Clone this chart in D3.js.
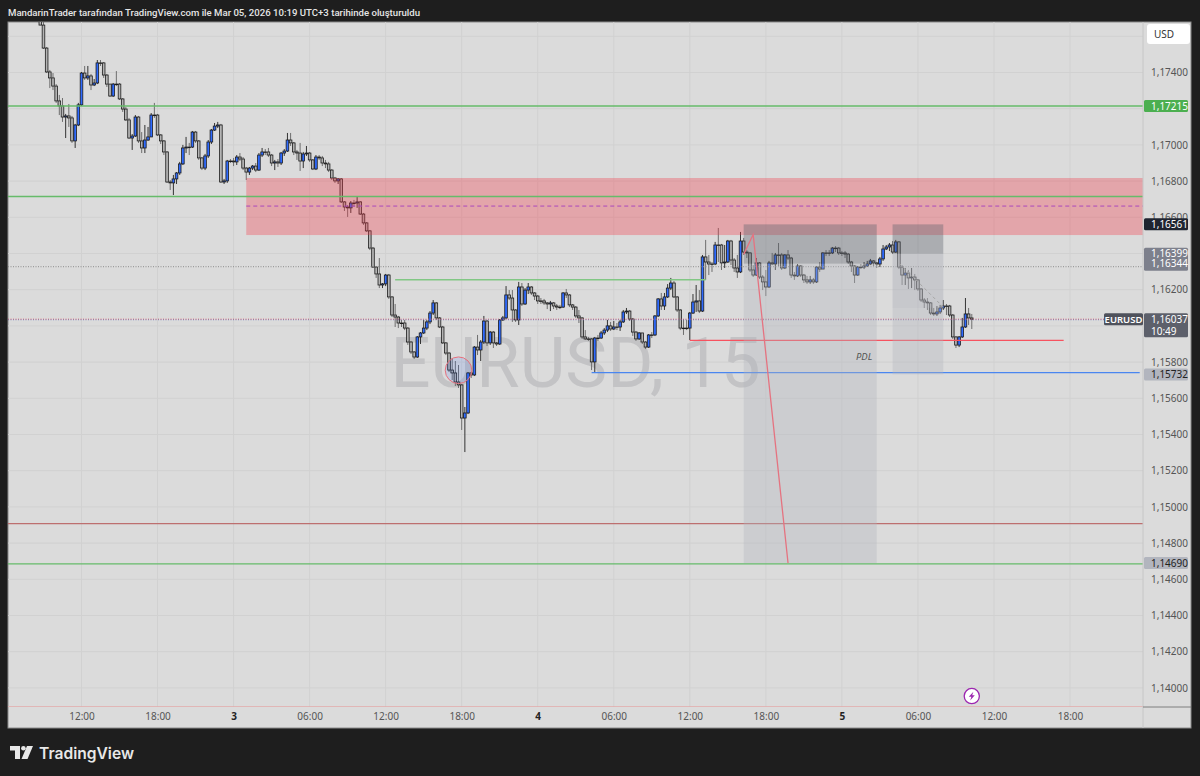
<!DOCTYPE html>
<html>
<head>
<meta charset="utf-8">
<script src="https://cdn.jsdelivr.net/npm/d3@7"></script>
<style>
  html, body { margin: 0; padding: 0; background: #1e1e1e; }
  svg { display: block; }
  text { font-family: "Noto Sans", sans-serif; }
</style>
</head>
<body>
<div id="chart"></div>
<script>
// EURUSD 15m bars. open = previous close
const firstOpen = 1.17690
const closes = [
  1.17662,1.17535,1.17403,1.17370,1.17325,1.17243,1.17215,1.17154,1.17160,1.17149,1.17022,1.17110,1.17221,1.17397,1.17370,
  1.17381,1.17331,1.17342,1.17453,1.17453,1.17386,1.17336,1.17270,1.17336,1.17336,1.17254,1.17198,1.17138,1.17038,1.17049,
  1.17154,1.17022,1.16983,1.17027,1.17044,1.17165,1.17165,1.17055,1.17022,1.16961,1.16795,1.16790,1.16812,1.16845,1.16895,
  1.16983,1.16988,1.16988,1.17071,1.17022,1.16928,1.16872,1.16939,1.17016,1.17082,1.17104,1.17110,1.16795,1.16801,1.16911,
  1.16911,1.16906,1.16933,1.16922,1.16872,1.16850,1.16872,1.16883,1.16861,1.16944,1.16961,1.16961,1.16944,1.16900,1.16906,
  1.16900,1.16955,1.16966,1.17027,1.17011,1.16961,1.16955,1.16911,1.16950,1.16955,1.16917,1.16867,1.16933,1.16928,1.16900,
  1.16895,1.16861,1.16817,1.16801,1.16812,1.16685,1.16657,1.16652,1.16679,1.16679,1.16685,1.16618,1.16569,1.16525,1.16430,
  1.16325,1.16287,1.16226,1.16232,1.16281,1.16160,1.16060,1.16049,1.16016,1.16016,1.15988,1.15911,1.15856,1.15828,1.15939,
  1.15961,1.15988,1.16022,1.16071,1.16127,1.16044,1.15994,1.15906,1.15850,1.15756,1.15740,1.15690,1.15674,1.15491,1.15519,
  1.15740,1.15729,1.15883,1.15867,1.15911,1.16027,1.15906,1.15966,1.15906,1.15900,1.16033,1.16044,1.16171,1.16154,1.16088,
  1.16033,1.16215,1.16121,1.16198,1.16215,1.16182,1.16165,1.16138,1.16138,1.16127,1.16121,1.16127,1.16110,1.16104,1.16104,
  1.16182,1.16171,1.16116,1.16104,1.16055,1.16044,1.15939,1.15928,1.15928,1.15801,1.15933,1.15933,1.15961,1.15977,1.16000,
  1.15983,1.15994,1.15994,1.16022,1.16077,1.16082,1.16038,1.15966,1.15928,1.15961,1.15911,1.15883,1.15950,1.15950,1.16055,
  1.16149,1.16110,1.16160,1.16209,1.16237,1.16160,1.16088,1.15988,1.15988,1.15988,1.16071,1.16132,1.16138,1.16082,1.16381,
  1.16353,1.16342,1.16342,1.16447,1.16447,1.16348,1.16353,1.16469,1.16364,1.16320,1.16298,1.16469,1.16408,1.16403,1.16309,
  1.16281,1.16348,1.16270,1.16243,1.16215,1.16348,1.16342,1.16392,1.16392,1.16320,1.16392,1.16375,1.16281,1.16276,1.16331,
  1.16281,1.16254,1.16243,1.16254,1.16243,1.16325,1.16314,1.16403,1.16403,1.16403,1.16430,1.16430,1.16403,1.16403,1.16397,
  1.16353,1.16331,1.16281,1.16325,1.16325,1.16331,1.16342,1.16359,1.16348,1.16342,1.16370,1.16425,1.16436,1.16447,1.16408,
  1.16464,1.16325,1.16281,1.16292,1.16265,1.16270,1.16254,1.16204,1.16143,1.16132,1.16127,1.16071,1.16066,1.16077,1.16099,
  1.16110,1.16110,1.16060,1.15939,1.15894,1.15939,1.15994,1.16066,1.16044,1.16037
]
const highs = [
  1.17745,1.17679,1.17541,1.17414,1.17397,1.17336,1.17276,1.17259,1.17171,1.17226,1.17160,1.17116,1.17232,1.17403,1.17436,
  1.17436,1.17392,1.17364,1.17469,1.17469,1.17458,1.17392,1.17336,1.17342,1.17408,1.17342,1.17259,1.17209,1.17149,1.17060,
  1.17165,1.17160,1.17071,1.17110,1.17099,1.17176,1.17232,1.17171,1.17060,1.17027,1.16966,1.16806,1.16834,1.16850,1.16906,
  1.17000,1.17044,1.17011,1.17077,1.17077,1.17027,1.16933,1.16950,1.17027,1.17088,1.17121,1.17127,1.17116,1.16812,1.16917,
  1.16922,1.16928,1.16944,1.16955,1.16933,1.16878,1.16878,1.16889,1.16900,1.16955,1.16983,1.16977,1.16983,1.16950,1.16917,
  1.16922,1.16961,1.16977,1.17066,1.17066,1.17016,1.16972,1.17011,1.16961,1.16994,1.16961,1.16922,1.16944,1.16944,1.16939,
  1.16917,1.16906,1.16867,1.16823,1.16817,1.16817,1.16690,1.16668,1.16690,1.16696,1.16712,1.16690,1.16624,1.16574,1.16530,
  1.16436,1.16331,1.16375,1.16237,1.16287,1.16287,1.16165,1.16121,1.16055,1.16033,1.16033,1.15994,1.15917,1.15861,1.15944,
  1.15966,1.16033,1.16033,1.16082,1.16143,1.16132,1.16049,1.16000,1.15911,1.15856,1.15823,1.15806,1.15784,1.15679,1.15552,
  1.15745,1.15745,1.15889,1.15950,1.15922,1.16055,1.16033,1.15972,1.15972,1.15911,1.16038,1.16055,1.16220,1.16198,1.16198,
  1.16093,1.16243,1.16237,1.16209,1.16237,1.16220,1.16187,1.16171,1.16154,1.16149,1.16132,1.16138,1.16132,1.16121,1.16116,
  1.16187,1.16204,1.16176,1.16121,1.16110,1.16088,1.16049,1.15977,1.15939,1.15933,1.15939,1.15950,1.15972,1.15988,1.16033,
  1.16022,1.16027,1.16016,1.16033,1.16088,1.16099,1.16088,1.16044,1.15972,1.15966,1.15961,1.15917,1.15955,1.15966,1.16060,
  1.16154,1.16182,1.16182,1.16231,1.16265,1.16248,1.16165,1.16093,1.16038,1.16033,1.16077,1.16176,1.16226,1.16198,1.16392,
  1.16475,1.16392,1.16353,1.16464,1.16541,1.16453,1.16447,1.16475,1.16475,1.16375,1.16392,1.16519,1.16486,1.16419,1.16408,
  1.16336,1.16375,1.16353,1.16281,1.16309,1.16359,1.16403,1.16403,1.16458,1.16403,1.16397,1.16419,1.16381,1.16298,1.16342,
  1.16336,1.16287,1.16276,1.16276,1.16265,1.16331,1.16353,1.16408,1.16419,1.16419,1.16436,1.16441,1.16436,1.16414,1.16414,
  1.16403,1.16359,1.16336,1.16331,1.16342,1.16353,1.16359,1.16370,1.16364,1.16353,1.16381,1.16447,1.16447,1.16458,1.16469,
  1.16475,1.16469,1.16336,1.16320,1.16309,1.16320,1.16287,1.16259,1.16209,1.16154,1.16154,1.16132,1.16099,1.16110,1.16116,
  1.16143,1.16121,1.16116,1.16066,1.15944,1.15944,1.16044,1.16154,1.16099,1.16066
]
const lows = [
  1.17662,1.17530,1.17397,1.17314,1.17303,1.17232,1.17165,1.17127,1.17038,1.17099,1.17011,1.16983,1.17104,1.17215,1.17359,
  1.17359,1.17303,1.17325,1.17336,1.17436,1.17370,1.17320,1.17265,1.17265,1.17325,1.17248,1.17182,1.17132,1.17033,1.16972,
  1.17044,1.17011,1.16955,1.16955,1.17022,1.17044,1.17149,1.17049,1.17005,1.16944,1.16790,1.16751,1.16723,1.16784,1.16834,
  1.16889,1.16955,1.16944,1.16983,1.17011,1.16917,1.16861,1.16861,1.16928,1.17005,1.17077,1.17093,1.16790,1.16784,1.16790,
  1.16900,1.16883,1.16889,1.16911,1.16861,1.16806,1.16834,1.16861,1.16850,1.16856,1.16933,1.16944,1.16933,1.16883,1.16861,
  1.16878,1.16889,1.16939,1.16961,1.16994,1.16944,1.16917,1.16856,1.16872,1.16939,1.16906,1.16861,1.16861,1.16917,1.16883,
  1.16872,1.16850,1.16806,1.16790,1.16784,1.16679,1.16635,1.16602,1.16624,1.16657,1.16652,1.16613,1.16558,1.16519,1.16419,
  1.16320,1.16265,1.16209,1.16209,1.16220,1.16149,1.16049,1.15994,1.15988,1.15994,1.15977,1.15895,1.15845,1.15817,1.15823,
  1.15900,1.15955,1.15977,1.16010,1.16060,1.16033,1.15988,1.15900,1.15839,1.15745,1.15701,1.15668,1.15657,1.15425,1.15303,
  1.15513,1.15712,1.15723,1.15839,1.15806,1.15900,1.15889,1.15895,1.15878,1.15889,1.15895,1.16027,1.16038,1.16143,1.16022,
  1.16022,1.16005,1.16110,1.16116,1.16176,1.16171,1.16143,1.16121,1.16121,1.16116,1.16093,1.16082,1.16093,1.16088,1.16093,
  1.16099,1.16154,1.16104,1.16088,1.16044,1.16016,1.15928,1.15922,1.15917,1.15756,1.15745,1.15917,1.15928,1.15950,1.15966,
  1.15972,1.15977,1.15977,1.15972,1.16016,1.16066,1.16027,1.15944,1.15917,1.15922,1.15900,1.15872,1.15878,1.15933,1.15944,
  1.16049,1.16088,1.16088,1.16154,1.16198,1.16154,1.16077,1.15977,1.15950,1.15977,1.15922,1.16066,1.16077,1.16071,1.16077,
  1.16254,1.16281,1.16298,1.16336,1.16353,1.16309,1.16320,1.16348,1.16336,1.16298,1.16265,1.16292,1.16392,1.16375,1.16298,
  1.16270,1.16276,1.16259,1.16198,1.16165,1.16209,1.16336,1.16309,1.16331,1.16309,1.16314,1.16364,1.16265,1.16254,1.16270,
  1.16270,1.16237,1.16232,1.16232,1.16232,1.16237,1.16298,1.16314,1.16386,1.16386,1.16397,1.16408,1.16392,1.16386,1.16375,
  1.16342,1.16298,1.16237,1.16276,1.16314,1.16314,1.16325,1.16336,1.16331,1.16320,1.16325,1.16359,1.16419,1.16414,1.16397,
  1.16403,1.16314,1.16226,1.16226,1.16204,1.16209,1.16198,1.16193,1.16132,1.16099,1.16088,1.16060,1.16055,1.16055,1.16066,
  1.16088,1.16060,1.16049,1.15928,1.15878,1.15883,1.15933,1.15989,1.16005,1.15983
]

const priceTicks = [1.176,1.174,1.172,1.170,1.168,1.166,1.164,1.162,1.160,1.158,1.156,1.154,1.152,1.150,1.148,1.146,1.144,1.142,1.140]
const hiddenTicks = [1.176,1.172,1.164,1.160]   // covered by the USD box and price tags
const timeTicks = [[2,12],[2,18],[3,0],[3,6],[3,12],[3,18],[4,0],[4,6],[4,12],[4,18],[5,0],[5,6],[5,12],[5,18]]
const timeLabels = ['12:00','18:00','3','06:00','12:00','18:00','4','06:00','12:00','18:00','5','06:00','12:00','18:00']

// horizontal levels
const fullLevels = [1.17215, 1.16715, 1.14908, 1.14685, 1.13894]
const fullLevelColors = ['#66bb6a', '#66bb6a', '#bd6f6f', '#66bb6a', '#e3aaaa']
const zoneTop = 1.16817, zoneBottom = 1.16502, zoneMid = 1.16662
const bidLevel = 1.16037
const greyDotted = 1.16327

const t = (d, h, m = 0) => new Date(Date.UTC(2026, 2, d, h, m))
const width = 1200, height = 776
const margin = { top: 22, left: 8, right: 1143, bottom: 707 }

const bars = closes.map((c, i) => ({
  time: new Date(Date.UTC(2026, 2, 2, 8, 45) + i * 900000),
  open: i ? closes[i - 1] : firstOpen,
  close: c,
  high: highs[i],
  low: lows[i]
}))

const xScale = d3.scaleUtc().domain([t(2, 12), t(5, 18)]).range([81.5, 1070])
const yScale = d3.scaleLinear().domain([1.174, 1.140]).range([72.5, 687.9])
const fmt = d => d.toFixed(5).replace('.', ',')

const svg = d3.select('#chart').append('svg').attr('width', width).attr('height', height)

// panel
svg.append('rect').attr('x', margin.left).attr('y', margin.top).attr('width', 1183).attr('height', 706)
  .attr('fill', '#dbdbdb').attr('stroke', '#8a8a8a')

svg.append('defs').append('clipPath').attr('id', 'plot-clip').append('rect')
  .attr('x', margin.left).attr('y', margin.top)
  .attr('width', margin.right - margin.left).attr('height', margin.bottom - margin.top)

const plot = svg.append('g').attr('clip-path', 'url(#plot-clip)')

// grid
plot.selectAll('.hgrid').data(priceTicks).join('line').attr('class', 'hgrid')
  .attr('x1', margin.left).attr('x2', margin.right)
  .attr('y1', d => yScale(d)).attr('y2', d => yScale(d))
  .attr('stroke', '#d1d1d1').attr('stroke-width', 1)
plot.selectAll('.vgrid').data(timeTicks).join('line').attr('class', 'vgrid')
  .attr('x1', d => xScale(t(d[0], d[1]))).attr('x2', d => xScale(t(d[0], d[1])))
  .attr('y1', margin.top).attr('y2', margin.bottom)
  .attr('stroke', '#d1d1d1').attr('stroke-width', 1)

// watermark
plot.append('text').attr('x', 575.5).attr('y', 387).attr('text-anchor', 'middle')
  .style('font-family', 'Roboto').style('font-size', '70.5px')
  .attr('fill', '#c3c3c5').text('EURUSD, 15')

// candles
const candle = plot.append('g').selectAll('g').data(bars).join('g')
candle.append('line')
  .attr('x1', d => xScale(d.time)).attr('x2', d => xScale(d.time))
  .attr('y1', d => yScale(d.high)).attr('y2', d => yScale(d.low))
  .attr('stroke', d => d.close > d.open ? '#333' : '#6e6e6e').attr('stroke-width', 1)
candle.append('rect')
  .attr('x', d => xScale(d.time) - 1.3).attr('width', 2.6)
  .attr('y', d => yScale(Math.max(d.open, d.close)))
  .attr('height', d => Math.max(0.6, Math.abs(yScale(d.open) - yScale(d.close))))
  .attr('fill', d => d.close > d.open ? '#2f6bff' : '#b4b4b4')
  .attr('stroke', '#1c1c1c').attr('stroke-width', 0.8)

// zone and levels, drawn over the candles
plot.append('rect')
  .attr('x', xScale(t(3, 1))).attr('width', margin.right - xScale(t(3, 1)))
  .attr('y', yScale(zoneTop)).attr('height', yScale(zoneBottom) - yScale(zoneTop))
  .attr('fill', '#f23645').attr('fill-opacity', 0.33)
plot.selectAll('.full').data(fullLevels).join('line').attr('class', 'full')
  .attr('x1', margin.left).attr('x2', margin.right)
  .attr('y1', d => yScale(d)).attr('y2', d => yScale(d))
  .attr('stroke', (d, i) => fullLevelColors[i]).attr('stroke-width', (d, i) => i == 4 ? 1.6 : 1.3)
plot.append('line')
  .attr('x1', xScale(t(3, 1))).attr('x2', margin.right)
  .attr('y1', yScale(zoneMid)).attr('y2', yScale(zoneMid))
  .attr('stroke', '#ab47bc').attr('stroke-width', 1).attr('stroke-dasharray', '4 3')
plot.append('line')
  .attr('x1', margin.left).attr('x2', margin.right)
  .attr('y1', yScale(greyDotted)).attr('y2', yScale(greyDotted))
  .attr('stroke', '#8d8d8d').attr('stroke-width', 1).attr('stroke-dasharray', '1 1.5')

// last price line
plot.append('line')
  .attr('x1', margin.left).attr('x2', 1104)
  .attr('y1', yScale(bidLevel)).attr('y2', yScale(bidLevel))
  .attr('stroke', '#e05c68').attr('stroke-width', 1).attr('stroke-dasharray', '1 1.5')
plot.append('line')
  .attr('x1', margin.left).attr('x2', 1104)
  .attr('y1', yScale(bidLevel) + 0.6).attr('y2', yScale(bidLevel) + 0.6)
  .attr('stroke', '#5a6fc0').attr('stroke-width', 0.6).attr('stroke-dasharray', '1 1.5')

// short levels
const segments = [
  { from: t(3, 12, 45), to: t(4, 13, 15), price: 1.16255, color: '#81c784' },
  { from: t(4, 12), to: t(5, 17, 30), price: 1.15920, color: '#f7525f' },
  { from: t(4, 4, 15), to: t(5, 23, 30), price: 1.15742, color: '#4a86f0' }
]
plot.selectAll('.seg').data(segments).join('line').attr('class', 'seg')
  .attr('x1', d => xScale(d.from)).attr('x2', d => xScale(d.to))
  .attr('y1', d => yScale(d.price)).attr('y2', d => yScale(d.price))
  .attr('stroke', d => d.color).attr('stroke-width', 1.3)

// position boxes
const boxes = [
  { from: t(4, 16, 15), to: t(5, 2, 45), top: 1.16344, bottom: 1.14690, fill: '#b2b5be', op: 0.35 },
  { from: t(4, 16, 15), to: t(5, 2, 45), top: 1.16561, bottom: 1.16344, fill: '#5d606b', op: 0.38 },
  { from: t(5, 4), to: t(5, 8), top: 1.16399, bottom: 1.15732, fill: '#b2b5be', op: 0.35 },
  { from: t(5, 4), to: t(5, 8), top: 1.16399, bottom: 1.16100, fill: '#b2b5be', op: 0.2 },
  { from: t(5, 4), to: t(5, 8), top: 1.16561, bottom: 1.16399, fill: '#5d606b', op: 0.38 }
]
plot.selectAll('.box').data(boxes).join('rect').attr('class', 'box')
  .attr('x', d => xScale(d.from)).attr('width', d => xScale(d.to) - xScale(d.from))
  .attr('y', d => yScale(d.top)).attr('height', d => yScale(d.bottom) - yScale(d.top))
  .attr('fill', d => d.fill).attr('fill-opacity', d => d.op)

// drawn path lines
const lineGen = d3.line().x(d => xScale(d[0])).y(d => yScale(d[1]))
const redPath = [[t(4, 16, 15), 1.16395], [t(4, 17), 1.16505], [t(4, 19, 45), 1.14690]]
const greyPath = [[t(5, 4, 30), 1.16348], [t(5, 8), 1.16104]]
plot.append('path').attr('d', lineGen(redPath)).attr('fill', 'none').attr('stroke', '#e57380').attr('stroke-width', 1.3)
plot.append('path').attr('d', lineGen(greyPath)).attr('fill', 'none').attr('stroke', '#a5a5a5').attr('stroke-width', 1).attr('stroke-dasharray', '3 3')

// marker circle
plot.append('circle').attr('cx', xScale(t(3, 17, 45))).attr('cy', yScale(1.15755)).attr('r', 13.3)
  .attr('fill', '#2962ff').attr('fill-opacity', 0.13).attr('stroke', '#e8707c').attr('stroke-width', 1)

plot.append('text').attr('x', xScale(t(5, 1, 45))).attr('y', yScale(1.15810)).attr('text-anchor', 'middle')
  .style('font-size', '9.5px').style('font-style', 'italic').attr('fill', '#555').text('PDL')

// lightning badge
const badge = plot.append('g').attr('transform', `translate(${xScale(t(5, 10, 15))},${yScale(1.13955)})`)
badge.append('circle').attr('r', 7.6).attr('fill', '#fff').attr('stroke', '#9c27b0').attr('stroke-width', 1.3)
badge.append('path').attr('d', 'M1.6,-4.4 L-3,0.8 L-0.4,0.8 L-1.6,4.4 L3,-0.8 L0.4,-0.8 Z').attr('fill', '#9c27b0')

// axes
const axisRight = d3.axisRight(yScale).tickValues(priceTicks.filter(d => !hiddenTicks.includes(d)))
  .tickFormat(fmt).tickSize(0).tickPadding(8)
const yAxis = svg.append('g').attr('transform', `translate(${margin.right},0)`).call(axisRight)
yAxis.select('.domain').remove()
yAxis.selectAll('text').style('font-size', '10px').attr('fill', '#555')

const axisBottom = d3.axisBottom(xScale).tickValues(timeTicks.map(d => t(d[0], d[1])))
  .tickFormat((d, i) => timeLabels[i]).tickSize(0).tickPadding(6)
const xAxis = svg.append('g').attr('transform', `translate(0,${margin.bottom})`).call(axisBottom)
xAxis.select('.domain').remove()
xAxis.selectAll('text').style('font-size', '10px')
  .attr('fill', (d, i) => timeLabels[i].length == 1 ? '#222' : '#555')
  .style('font-weight', (d, i) => timeLabels[i].length == 1 ? 'bold' : 'normal')

svg.append('line').attr('x1', margin.right).attr('x2', margin.right).attr('y1', margin.top).attr('y2', 728).attr('stroke', '#c6c6c6')
svg.append('line').attr('x1', margin.right).attr('x2', 1191).attr('y1', margin.bottom).attr('y2', margin.bottom).attr('stroke', '#7f7f7f')

// price tags
function tag(price, lines, fill, color) {
  const yc = yScale(price)
  const h = 12
  svg.append('rect').attr('x', margin.right + 1).attr('y', yc - h / 2).attr('width', 44).attr('height', h)
    .attr('rx', 1.5).attr('fill', fill)
  svg.append('text').attr('x', 1151).attr('y', yc + 3.6).style('font-size', '10px').attr('fill', color).text(lines)
}
tag(1.17215, fmt(1.17215), '#4caf50', '#fff')
tag(1.16561, fmt(1.16561), '#1f2430', '#fff')
tag(1.15732, fmt(1.15732), '#b2b5be', '#222')
tag(1.14690, fmt(1.14690), '#b2b5be', '#222')

svg.append('rect').attr('x', margin.right + 1).attr('y', yScale(1.16399) - 6).attr('width', 44).attr('height', 23)
  .attr('rx', 1.5).attr('fill', '#7d808c')
svg.append('text').attr('x', 1151).attr('y', yScale(1.16399) + 3.6).style('font-size', '10px').attr('fill', '#fff').text(fmt(1.16399))
svg.append('text').attr('x', 1151).attr('y', yScale(1.16344) + 3.6).style('font-size', '10px').attr('fill', '#fff').text(fmt(1.16344))

svg.append('rect').attr('x', margin.right + 1).attr('y', yScale(bidLevel) - 6).attr('width', 44).attr('height', 24)
  .attr('rx', 1.5).attr('fill', '#5d606b')
svg.append('text').attr('x', 1151).attr('y', yScale(bidLevel) + 3.6).style('font-size', '10px').attr('fill', '#fff').text(fmt(bidLevel))
svg.append('text').attr('x', 1151).attr('y', yScale(bidLevel) + 15.6).style('font-size', '10px').attr('fill', '#fff').text('10:49')

svg.append('rect').attr('x', 1104).attr('y', yScale(bidLevel) - 6).attr('width', 39).attr('height', 12)
  .attr('rx', 1.5).attr('fill', '#4f525c')
svg.append('text').attr('x', 1123.5).attr('y', yScale(bidLevel) + 3.6).attr('text-anchor', 'middle')
  .style('font-size', '9.5px').style('font-weight', '600').attr('fill', '#fff').text('EURUSD')

// currency box
svg.append('rect').attr('x', 1147).attr('y', 24).attr('width', 43).attr('height', 20).attr('rx', 3).attr('fill', '#fff')
svg.append('text').attr('x', 1154).attr('y', 37.5).style('font-size', '10px').attr('fill', '#333').text('USD')

// header and logo
svg.append('text').attr('x', 8).attr('y', 15.5).style('font-family', 'Roboto').style('font-size', '9.6px').style('font-weight', '500').attr('fill', '#e6e6e6')
  .text('MandarinTrader tarafından TradingView.com ile Mar 05, 2026 10:19 UTC+3 tarihinde oluşturuldu')

const logo = svg.append('g').attr('transform', 'translate(10,746)').attr('fill', '#e8e8e8')
logo.append('path').attr('d', 'M0,0 H10 V13 H5 V4.6 H0 Z')
logo.append('circle').attr('cx', 13.4).attr('cy', 2.3).attr('r', 2.3)
logo.append('path').attr('d', 'M17,0 H23 L17.5,13 H11.5 Z')
svg.append('text').attr('x', 39).attr('y', 758.5).style('font-family', 'Inter').style('font-size', '15.6px').style('font-weight', '600')
  .attr('fill', '#e8e8e8').text('TradingView')
</script>
</body>
</html>
